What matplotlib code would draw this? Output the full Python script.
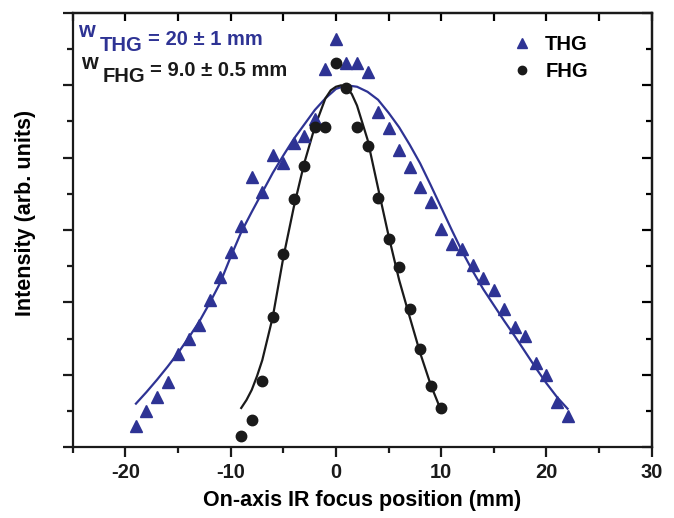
import matplotlib
matplotlib.use("Agg")
import matplotlib.pyplot as plt
from matplotlib.ticker import MultipleLocator

plt.rcParams['font.family'] = ['Liberation Sans', 'DejaVu Sans']
plt.rcParams['font.weight'] = 'bold'
plt.rcParams['axes.unicode_minus'] = False

# measured points
thg_x = list(range(-19, 23))
thg_y = [0.29, 0.50, 0.69, 0.90, 1.29, 1.49, 1.69, 2.03, 2.35, 2.70,
         3.06, 3.73, 3.53, 4.04, 3.93, 4.20, 4.30, 4.53, 5.23, 5.64,
         5.31, 5.31, 5.18, 4.63, 4.41, 4.11, 3.87, 3.59, 3.39, 3.01,
         2.81, 2.74, 2.52, 2.34, 2.17, 1.91, 1.66, 1.53, 1.16, 1.00,
         0.62, 0.43]

fhg_x = list(range(-9, 11))
fhg_y = [0.15, 0.37, 0.91, 1.80, 2.67, 3.43, 3.88, 4.42, 4.42, 5.31,
         4.96, 4.42, 4.16, 3.44, 2.88, 2.49, 1.91, 1.35, 0.84, 0.54]

# fit curves
thg_fit_x = list(range(-19, 23))
thg_fit_y = [0.60, 0.76, 0.93, 1.11, 1.30, 1.51, 1.73, 1.99, 2.27, 2.63,
             2.97, 3.25, 3.52, 3.79, 4.03, 4.26, 4.46, 4.66, 4.82, 4.95,
             5.00, 4.98, 4.91, 4.80, 4.62, 4.42, 4.18, 3.92, 3.62, 3.31,
             3.00, 2.70, 2.43, 2.18, 1.96, 1.74, 1.53, 1.31, 1.09, 0.88,
             0.69, 0.53]

fhg_fit_x = [-9, -8.5, -8, -7.5, -7, -6, -5, -4, -3, -2, -1, -0.5, 0, 0.5, 1,
             1.5, 2, 3, 4, 5, 6, 7, 8, 9, 10]
fhg_fit_y = [0.54, 0.65, 0.79, 0.98, 1.20, 1.80, 2.62, 3.32, 3.93, 4.43,
             4.82, 4.93, 4.98, 5.00, 4.97, 4.88, 4.72, 4.25, 3.58, 2.92,
             2.31, 1.80, 1.30, 0.86, 0.50]

blue = '#2e3394'
black = '#1a1a1a'

fig = plt.figure(figsize=(6.74, 5.18), dpi=100)
ax = fig.add_axes([0.108, 0.137, 0.859, 0.838])

ax.plot(thg_fit_x, thg_fit_y, color=blue, lw=1.6)
ax.plot(fhg_fit_x, fhg_fit_y, color=black, lw=1.6)
ax.plot(thg_x, thg_y, ls='none', marker='^', ms=9, color=blue, label='THG')
ax.plot(fhg_x, fhg_y, ls='none', marker='o', ms=7.5, color=black, label='FHG')

ax.set_xlim(-25, 30)
ax.set_ylim(0, 6)
ax.xaxis.set_major_locator(MultipleLocator(10))
ax.xaxis.set_minor_locator(MultipleLocator(5))
ax.yaxis.set_major_locator(MultipleLocator(1))
ax.yaxis.set_minor_locator(MultipleLocator(0.5))
ax.set_yticklabels([])

for s in ax.spines.values():
    s.set_linewidth(1.6)
    s.set_color(black)

ax.tick_params(axis='both', which='major', direction='out', length=7.5, width=1.6,
               labelsize=14.5, colors=black)
ax.tick_params(axis='both', which='minor', direction='out', length=4, width=1.6, colors=black)
ax.tick_params(axis='x', pad=4)

# ticks pointing inward on the top and right
top = ax.secondary_xaxis('top')
top.xaxis.set_major_locator(MultipleLocator(5))
top.tick_params(direction='in', length=6, width=1.6, labeltop=False)
top.spines['top'].set_linewidth(1.6)
right = ax.secondary_yaxis('right')
right.yaxis.set_major_locator(MultipleLocator(1))
right.yaxis.set_minor_locator(MultipleLocator(0.5))
right.tick_params(which='major', direction='in', length=7.5, width=1.6, labelright=False)
right.tick_params(which='minor', direction='in', length=4, width=1.6)
right.spines['right'].set_linewidth(1.6)

ax.set_xlabel('On-axis IR focus position (mm)', fontsize=15.5, fontweight='bold', labelpad=6)
ax.set_ylabel('Intensity (arb. units)', fontsize=15.5, fontweight='bold')
ax.yaxis.set_label_coords(-0.064, 0.54)

ax.legend(loc='upper left', bbox_to_anchor=(0.722, 0.99), frameon=False,
          fontsize=14.5, handletextpad=0.5, labelspacing=0.4, handlelength=1.3,
          markerscale=0.8)

# width annotations
fig.text(78 / 674, 1 - 37 / 518, 'w', color=blue, fontsize=15.5, fontweight='bold', va='baseline')
fig.text(100 / 674, 1 - 51 / 518, 'THG', color=blue, fontsize=14.5, fontweight='bold', va='baseline')
fig.text(148 / 674, 1 - 45 / 518, '= 20 ± 1 mm', color=blue, fontsize=14.5, fontweight='bold', va='baseline')
fig.text(81 / 674, 1 - 69 / 518, 'w', color=black, fontsize=15.5, fontweight='bold', va='baseline')
fig.text(103 / 674, 1 - 82 / 518, 'FHG', color=black, fontsize=14.5, fontweight='bold', va='baseline')
fig.text(150 / 674, 1 - 76 / 518, '= 9.0 ± 0.5 mm', color=black, fontsize=14.5, fontweight='bold', va='baseline')

fig.savefig('out.png', dpi=100)
